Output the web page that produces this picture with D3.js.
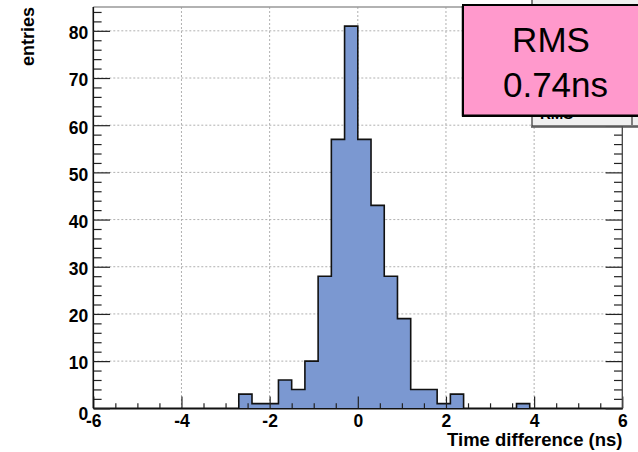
<!DOCTYPE html>
<html>
<head>
<meta charset="utf-8">
<script src="https://cdn.jsdelivr.net/npm/d3@7"></script>
<style>
  html, body { margin: 0; padding: 0; background: #fff; }
  svg { display: block; font-family: "Liberation Sans", Arial, Helvetica, sans-serif; }
  .tick text { font-weight: bold; font-size: 17.5px; fill: #000; }
</style>
</head>
<body>
<svg id="chart" width="638" height="452"></svg>
<script>
// Histogram of time differences, 0.3 ns bins from -6 to 6 ns
const binWidth = 0.3;
const binStarts = [-2.7, -2.4, -2.1, -1.8, -1.5, -1.2, -0.9, -0.6, -0.3, 0.0, 0.3, 0.6, 0.9, 1.2, 1.5, 1.8, 2.1, 3.6];
const counts    = [3, 1, 1, 6, 4, 10, 28, 57, 81, 57, 43, 28, 19, 4, 4, 1, 3, 1];

const xMajorTicks = [-6, -4, -2, 0, 2, 4, 6];
const xTickLabels = ["-6", "-4", "-2", "0", "2", "4", "6"];
const yMajorTicks = [0, 10, 20, 30, 40, 50, 60, 70, 80];
const yTickLabels = ["0", "10", "20", "30", "40", "50", "60", "70", "80"];
const xMinorTicks = d3.range(-6, 6.001, 0.5).filter(v => Math.abs(v % 2) > 1e-6);
const yMinorTicks = d3.range(0, 85, 2).filter(v => v % 10 !== 0);

const statsTitle = "RMS";
const statsValue = "0.74ns";

const svg = d3.select("#chart");
const plotL = 93.3, plotR = 622.3, plotT = 7, plotB = 408.3;

const x = d3.scaleLinear().domain([-6, 6]).range([plotL, plotR]);
const y = d3.scaleLinear().domain([0, 85.05]).range([plotB, plotT]);

// dotted grid at major ticks
const grid = svg.append("g").attr("stroke", "#b0b0b0").attr("stroke-width", 1)
  .attr("stroke-dasharray", "2,2");
grid.selectAll("line.v").data(xMajorTicks.slice(1, -1)).join("line").attr("class", "v")
  .attr("x1", d => x(d)).attr("x2", d => x(d))
  .attr("y1", plotT).attr("y2", plotB);
grid.selectAll("line.h").data(yMajorTicks.slice(1)).join("line").attr("class", "h")
  .attr("x1", plotL).attr("x2", plotR)
  .attr("y1", d => y(d)).attr("y2", d => y(d));

// step outline of the histogram
const bins = binStarts.map((s, i) => ({ x0: s, x1: s + binWidth, n: counts[i] }));
const path = d3.path();
path.moveTo(x(-6), y(0));
let prevEnd = -6;
bins.forEach(b => {
  if (Math.abs(b.x0 - prevEnd) > 1e-6) {
    path.lineTo(x(prevEnd), y(0));
    path.lineTo(x(b.x0), y(0));
  }
  path.lineTo(x(b.x0), y(b.n));
  path.lineTo(x(b.x1), y(b.n));
  prevEnd = b.x1;
});
path.lineTo(x(prevEnd), y(0));
path.lineTo(x(6), y(0));

svg.append("path").attr("d", path.toString())
  .attr("fill", "#7b98d1").attr("stroke", "#111").attr("stroke-width", 1.6)
  .attr("stroke-linejoin", "miter");

// frame top line
svg.append("line").attr("x1", plotL).attr("x2", plotR).attr("y1", plotT).attr("y2", plotT)
  .attr("stroke", "#999").attr("stroke-width", 1.5);

function styleAxis(g) {
  g.selectAll(".tick line").attr("stroke", "#222").attr("stroke-width", 1.2);
  g.select(".domain").attr("stroke", "#111").attr("stroke-width", 1.6);
}

// x axis: minor and major ticks pointing inward
svg.append("g").attr("transform", `translate(0,${plotB})`)
  .call(d3.axisBottom(x).tickValues(xMinorTicks).tickSizeInner(-5).tickSizeOuter(0).tickFormat(""))
  .call(g => { styleAxis(g); g.select(".domain").remove(); });
svg.append("g").attr("transform", `translate(0,${plotB})`)
  .call(d3.axisBottom(x).tickValues(xMajorTicks).tickSizeInner(-11.7).tickSizeOuter(0)
    .tickPadding(0).tickFormat((d, i) => xTickLabels[i]))
  .call(styleAxis)
  .call(g => g.selectAll(".tick text").attr("y", 19).attr("dy", 0));

// y axis, left
svg.append("g").attr("transform", `translate(${plotL},0)`)
  .call(d3.axisLeft(y).tickValues(yMinorTicks).tickSizeInner(-8.3).tickSizeOuter(0).tickFormat(""))
  .call(g => { styleAxis(g); g.select(".domain").remove(); });
svg.append("g").attr("transform", `translate(${plotL},0)`)
  .call(d3.axisLeft(y).tickValues(yMajorTicks).tickSizeInner(-16.7).tickSizeOuter(0)
    .tickPadding(0).tickFormat((d, i) => yTickLabels[i]))
  .call(g => {
    g.select(".domain").attr("d", `M0,${plotB}V${plotT}`);
    styleAxis(g);
  })
  .call(g => g.selectAll(".tick text").attr("x", -5)
    .attr("dy", d => d === 0 ? "0.62em" : "0.45em"));

// y axis, right (ticks only)
svg.append("g").attr("transform", `translate(${plotR},0)`)
  .call(d3.axisRight(y).tickValues(yMinorTicks).tickSizeInner(-8.3).tickSizeOuter(0).tickFormat(""))
  .call(g => { styleAxis(g); g.select(".domain").remove(); });
svg.append("g").attr("transform", `translate(${plotR},0)`)
  .call(d3.axisRight(y).tickValues(yMajorTicks).tickSizeInner(-16.7).tickSizeOuter(0).tickFormat(""))
  .call(g => {
    g.select(".domain").attr("d", `M0,${plotB}V${plotT}`);
    styleAxis(g);
    g.select(".domain").attr("stroke", "#444").attr("stroke-width", 1.3);
  });

// axis titles
svg.append("text").attr("x", 622.5).attr("y", 446).attr("text-anchor", "end")
  .attr("font-weight", "bold").attr("font-size", 18.5).text("Time difference (ns)");
svg.append("text").attr("transform", "translate(33.5,7) rotate(-90)").attr("text-anchor", "end")
  .attr("font-weight", "bold").attr("font-size", 18).text("entries");

// statistics box (mostly covered)
const stats = svg.append("g");
stats.append("rect").attr("x", 532).attr("y", -5).attr("width", 120).attr("height", 131)
  .attr("fill", "#f0f0f0").attr("stroke", "#333").attr("stroke-width", 1.2);
stats.append("line").attr("x1", 531).attr("x2", 640).attr("y1", 127).attr("y2", 127)
  .attr("stroke", "#555").attr("stroke-width", 1.5);
stats.append("text").attr("x", 540).attr("y", 118.5).attr("font-size", 15)
  .attr("font-weight", "bold").text(statsTitle);
stats.append("line").attr("x1", 632).attr("x2", 632).attr("y1", 112).attr("y2", 125)
  .attr("stroke", "#333").attr("stroke-width", 1.2);

// RMS label box
const box = svg.append("g");
box.append("rect").attr("x", 463).attr("y", 5).attr("width", 190).attr("height", 110.5)
  .attr("fill", "#ff99cc").attr("stroke", "#000").attr("stroke-width", 2);
box.append("line").attr("x1", 462.5).attr("x2", 462.5).attr("y1", 6).attr("y2", 116.5)
  .attr("stroke", "#000").attr("stroke-width", 1.5);
box.append("line").attr("x1", 462).attr("x2", 640).attr("y1", 116.2).attr("y2", 116.2)
  .attr("stroke", "#000").attr("stroke-width", 1.5);
box.append("text").attr("x", 551).attr("y", 52).attr("text-anchor", "middle")
  .attr("font-size", 35).attr("fill", "#000").text(statsTitle);
box.append("text").attr("x", 555.5).attr("y", 97).attr("text-anchor", "middle")
  .attr("font-size", 35).attr("fill", "#000").text(statsValue);
</script>
</body>
</html>
